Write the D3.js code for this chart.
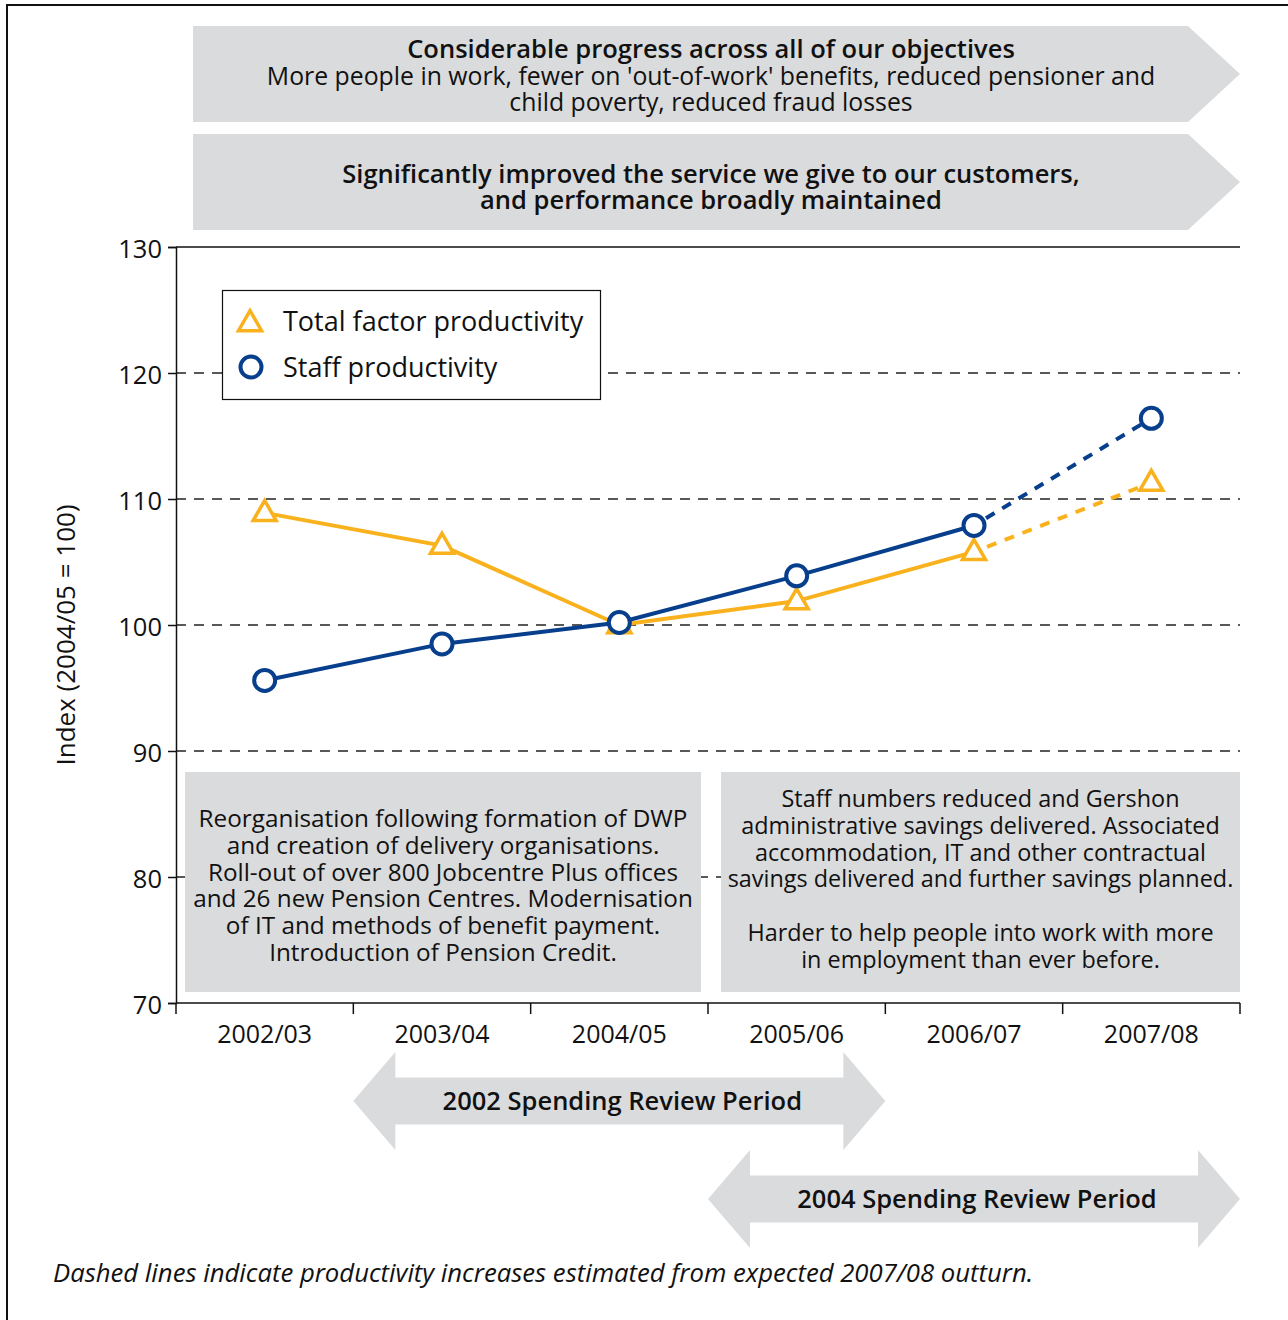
<!DOCTYPE html>
<html>
<head>
<meta charset="utf-8">
<script src="https://cdn.jsdelivr.net/npm/d3@7"></script>
<style>
  body { margin: 0; background: #fff; }
  svg { display: block; font-family: "Open Sans", "Noto Sans", sans-serif; }
</style>
</head>
<body>
<svg id="chart" width="1288" height="1320"></svg>
<script>
// chart data
const years = ["2002/03", "2003/04", "2004/05", "2005/06", "2006/07", "2007/08"];
const tfpValues = [108.9, 106.3, 100.0, 101.9, 105.8, 111.3];
const staffValues = [95.6, 98.5, 100.2, 103.9, 107.9, 116.4];
const yTicks = [70, 80, 90, 100, 110, 120, 130];
const gridValues = [80, 90, 100, 110, 120];
const estimatedFrom = "2006/07"; // segments after this year are estimates (dashed)

const orange = "#f9b21d";
const navy = "#073f8d";
const grey = "#dadbdc";

const svg = d3.select("#chart");

// outer frame
svg.append("rect")
  .attr("x", 7).attr("y", 5)
  .attr("width", 1300).attr("height", 1340)
  .attr("fill", "none").attr("stroke", "#111").attr("stroke-width", 2);

// scales
const x = d3.scaleBand().domain(years).range([176, 1240]);
const y = d3.scaleLinear().domain([70, 130]).range([1003, 247]);
const cx = d => x(d) + x.bandwidth() / 2;

// top banners (arrow-shaped boxes)
function banner(top, h, lines) {
  const left = 193, right = 1188, tip = 1240;
  svg.append("path")
    .attr("d", `M${left},${top}H${right}L${tip},${top + h / 2}L${right},${top + h}H${left}Z`)
    .attr("fill", grey);
  lines.forEach(l => {
    svg.append("text")
      .attr("x", 711).attr("y", l.y)
      .attr("text-anchor", "middle")
      .attr("font-size", l.bold ? 25.5 : 24.8)
      .attr("font-weight", l.bold ? 600 : 400)
      .attr("fill", "#111")
      .text(l.t);
  });
}
banner(26, 96, [
  { t: "Considerable progress across all of our objectives", y: 58, bold: true },
  { t: "More people in work, fewer on 'out-of-work' benefits, reduced pensioner and", y: 85 },
  { t: "child poverty, reduced fraud losses", y: 111 }
]);
banner(134, 96, [
  { t: "Significantly improved the service we give to our customers,", y: 183, bold: true },
  { t: "and performance broadly maintained", y: 209, bold: true }
]);

// gridlines
svg.append("g")
  .selectAll("line")
  .data(gridValues)
  .join("line")
  .attr("x1", 176).attr("x2", 1240)
  .attr("y1", d => y(d)).attr("y2", d => y(d))
  .attr("stroke", "#222").attr("stroke-width", 1.5)
  .attr("stroke-dasharray", "10,8");

// top line at 130
svg.append("line")
  .attr("x1", 176).attr("x2", 1240)
  .attr("y1", y(130)).attr("y2", y(130))
  .attr("stroke", "#111").attr("stroke-width", 1.5);

// y axis
const yAxis = svg.append("g")
  .attr("transform", "translate(176,0)")
  .call(d3.axisLeft(y).tickValues(yTicks).tickSize(8).tickPadding(6));
yAxis.select(".domain").attr("stroke", "#111").attr("stroke-width", 1.5);
yAxis.selectAll(".tick line").attr("stroke", "#111").attr("stroke-width", 1.5);
yAxis.selectAll(".tick text")
  .attr("font-size", 25.5).attr("fill", "#111").attr("dy", "0.4em")
  .attr("font-family", "'Open Sans', sans-serif");

svg.append("text")
  .attr("transform", "translate(75,635) rotate(-90)")
  .attr("text-anchor", "middle")
  .attr("font-size", 26).attr("fill", "#111")
  .text("Index (2004/05 = 100)");

// x axis
const xAxis = svg.append("g")
  .attr("transform", `translate(0,${y(70)})`)
  .call(d3.axisBottom(x).tickSize(0).tickPadding(22));
xAxis.select(".domain").remove();
xAxis.selectAll(".tick text")
  .attr("font-size", 25).attr("fill", "#111")
  .attr("font-family", "'Open Sans', sans-serif");

svg.append("line")
  .attr("x1", 176).attr("x2", 1240)
  .attr("y1", y(70)).attr("y2", y(70))
  .attr("stroke", "#111").attr("stroke-width", 1.5);

svg.append("g")
  .selectAll("line")
  .data(years.map(d => x(d)).concat([x.range()[1]]))
  .join("line")
  .attr("x1", d => d).attr("x2", d => d)
  .attr("y1", y(70)).attr("y2", y(70) + 11)
  .attr("stroke", "#111").attr("stroke-width", 1.5);

// annotation boxes
function noteBox(x0, x1, lines, y0, fs) {
  svg.append("rect")
    .attr("x", x0).attr("y", 772)
    .attr("width", x1 - x0).attr("height", 220)
    .attr("fill", grey);
  lines.forEach((t, i) => {
    svg.append("text")
      .attr("x", (x0 + x1) / 2).attr("y", y0 + i * 26.8)
      .attr("text-anchor", "middle")
      .attr("font-size", fs).attr("fill", "#111")
      .text(t);
  });
}
noteBox(185, 701, [
  "Reorganisation following formation of DWP",
  "and creation of delivery organisations.",
  "Roll-out of over 800 Jobcentre Plus offices",
  "and 26 new Pension Centres. Modernisation",
  "of IT and methods of benefit payment.",
  "Introduction of Pension Credit."
], 827, 24.3);
noteBox(721, 1240, [
  "Staff numbers reduced and Gershon",
  "administrative savings delivered. Associated",
  "accommodation, IT and other contractual",
  "savings delivered and further savings planned.",
  "",
  "Harder to help people into work with more",
  "in employment than ever before."
], 807, 23.4);

// series lines
const tfp = years.map((d, i) => ({ year: d, value: tfpValues[i] }));
const staff = years.map((d, i) => ({ year: d, value: staffValues[i] }));
const line = d3.line().x(d => cx(d.year)).y(d => y(d.value));
const cut = years.indexOf(estimatedFrom);

function drawSeries(data, color) {
  svg.append("path")
    .datum(data.slice(0, cut + 1))
    .attr("d", line)
    .attr("fill", "none").attr("stroke", color).attr("stroke-width", 4);
  svg.append("path")
    .datum(data.slice(cut))
    .attr("d", line)
    .attr("fill", "none").attr("stroke", color).attr("stroke-width", 4)
    .attr("stroke-dasharray", "10,9").attr("stroke-dashoffset", -14);
}
drawSeries(tfp, orange);
drawSeries(staff, navy);

const triangle = d3.symbol().type(d3.symbolTriangle).size(230);

svg.append("g")
  .selectAll("path")
  .data(tfp)
  .join("path")
  .attr("transform", d => `translate(${cx(d.year)},${y(d.value) + 1})`)
  .attr("d", triangle)
  .attr("fill", "#fff").attr("stroke", orange).attr("stroke-width", 3.5);

svg.append("g")
  .selectAll("circle")
  .data(staff)
  .join("circle")
  .attr("cx", d => cx(d.year)).attr("cy", d => y(d.value))
  .attr("r", 10.5)
  .attr("fill", "#fff").attr("stroke", navy).attr("stroke-width", 4);

// legend
const legend = svg.append("g");
legend.append("rect")
  .attr("x", 222.5).attr("y", 290.5)
  .attr("width", 378).attr("height", 109)
  .attr("fill", "#fff").attr("stroke", "#111").attr("stroke-width", 1.2);
legend.append("path")
  .attr("transform", "translate(250,324)")
  .attr("d", triangle)
  .attr("fill", "#fff").attr("stroke", orange).attr("stroke-width", 3.5);
legend.append("circle")
  .attr("cx", 251).attr("cy", 367).attr("r", 10.5)
  .attr("fill", "#fff").attr("stroke", navy).attr("stroke-width", 4);
legend.append("text")
  .attr("x", 283).attr("y", 331)
  .attr("font-size", 27).attr("fill", "#111")
  .text("Total factor productivity");
legend.append("text")
  .attr("x", 283).attr("y", 377)
  .attr("font-size", 27).attr("fill", "#111")
  .text("Staff productivity");

// spending review double arrows
function doubleArrow(x0, x1, cy, label) {
  const head = 42, hh = 49, bh = 23.5;
  svg.append("path")
    .attr("d", `M${x0},${cy}L${x0 + head},${cy - hh}V${cy - bh}H${x1 - head}V${cy - hh}` +
      `L${x1},${cy}L${x1 - head},${cy + hh}V${cy + bh}H${x0 + head}V${cy + hh}Z`)
    .attr("fill", grey);
  svg.append("text")
    .attr("x", (x0 + x1) / 2 + 3).attr("y", cy + 9)
    .attr("text-anchor", "middle")
    .attr("font-size", 25.5).attr("font-weight", 600).attr("fill", "#111")
    .text(label);
}
doubleArrow(x("2003/04"), x("2006/07"), 1101, "2002 Spending Review Period");
doubleArrow(x("2005/06"), x.range()[1], 1199, "2004 Spending Review Period");

// footnote
svg.append("text")
  .attr("x", 53).attr("y", 1282)
  .attr("font-size", 25.7).attr("font-style", "italic").attr("fill", "#111")
  .text("Dashed lines indicate productivity increases estimated from expected 2007/08 outturn.");
</script>
</body>
</html>
